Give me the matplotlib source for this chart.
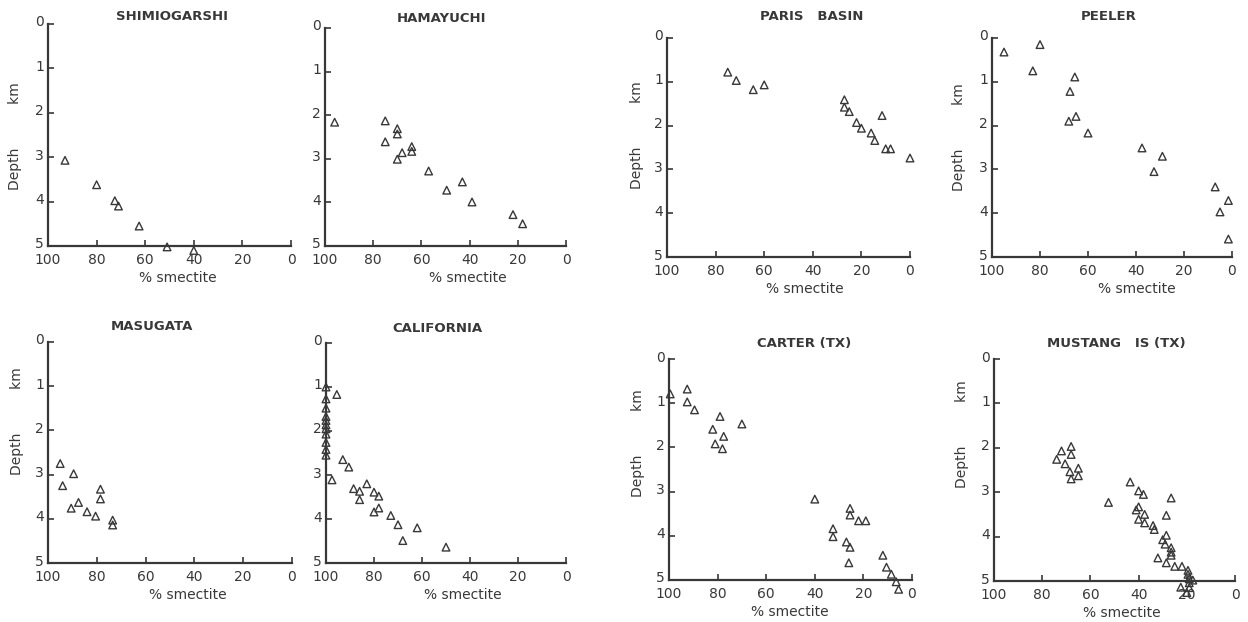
import matplotlib
matplotlib.use("Agg")
import matplotlib.pyplot as plt
import matplotlib.transforms as mtransforms

# ---------------- data (% smectite, depth km) ----------------
shimio_smectite = [93, 80, 72.5, 71, 62.5, 51, 40]
shimio_depth = [3.07, 3.62, 3.98, 4.1, 4.55, 5.02, 5.1]

hama_smectite = [96, 75, 70, 70, 75, 64, 64, 68, 70, 57, 49.5, 43, 39, 22, 18]
hama_depth = [2.16, 2.13, 2.31, 2.43, 2.61, 2.72, 2.83, 2.86, 3.01, 3.28, 3.72, 3.53, 3.99, 4.28, 4.49]

masu_smectite = [95, 89.5, 94, 78.5, 78.5, 87.5, 90.5, 84, 80.5, 73.5, 73.5]
masu_depth = [2.75, 2.98, 3.25, 3.33, 3.55, 3.63, 3.76, 3.84, 3.94, 4.03, 4.14]

cali_smectite = [100, 100, 100, 100, 100, 100, 100, 100, 100, 100, 100,
                 95.5, 93, 90.5, 97.5, 83, 88.5, 86, 80, 78, 86, 78, 80,
                 73, 70, 62, 68, 50]
cali_depth = [1.0, 1.27, 1.48, 1.67, 1.76, 1.86, 1.95, 2.07, 2.26, 2.42, 2.55,
              1.17, 2.65, 2.82, 3.11, 3.2, 3.31, 3.37, 3.39, 3.48, 3.56, 3.75, 3.84,
              3.92, 4.13, 4.2, 4.49, 4.64]

paris_smectite = [75, 71.5, 64.5, 60, 27, 27, 25, 11.5, 22, 20, 16, 14.5, 10, 8, 0]
paris_depth = [0.78, 0.97, 1.18, 1.07, 1.41, 1.58, 1.68, 1.77, 1.93, 2.06, 2.17, 2.34, 2.53, 2.53, 2.74]

peeler_smectite = [95, 80, 83, 65.5, 67.5, 65, 68, 60, 37.5, 29, 32.5, 7, 1.5, 5, 1.5]
peeler_depth = [0.32, 0.15, 0.75, 0.89, 1.22, 1.79, 1.9, 2.17, 2.51, 2.7, 3.05, 3.4, 3.71, 3.97, 4.59]

carter_smectite = [99.5, 92.5, 92.5, 89.5, 79, 70, 82, 77.5, 81, 78, 40, 25.5, 25.5, 22,
                   19, 32.5, 32.5, 27, 25.5, 26, 12, 10.5, 8.5, 6.5, 5.5]
carter_depth = [0.79, 0.68, 0.97, 1.15, 1.3, 1.47, 1.59, 1.75, 1.92, 2.03, 3.17, 3.38, 3.53, 3.66,
                3.66, 3.84, 4.02, 4.14, 4.26, 4.61, 4.44, 4.71, 4.87, 5.04, 5.21]

mustang_smectite = [68, 72, 68, 74, 70.5, 65, 68.5, 65, 68, 43.5, 40, 38, 26.5, 52.5, 40,
                    41, 37.5, 28.5, 40, 37.5, 34, 33.5, 28.5, 30, 29, 26.5, 26.5, 26.5,
                    32, 28.5, 25, 22, 19.5, 19.5, 19, 17.5, 19, 22.5, 19, 20]
mustang_depth = [1.97, 2.07, 2.15, 2.26, 2.36, 2.46, 2.54, 2.63, 2.70, 2.77, 2.97, 3.05, 3.13, 3.23, 3.33,
                 3.40, 3.50, 3.52, 3.61, 3.69, 3.75, 3.84, 3.97, 4.07, 4.17, 4.25, 4.35, 4.42,
                 4.48, 4.59, 4.67, 4.67, 4.76, 4.85, 4.95, 4.98, 5.04, 5.14, 5.15, 5.26]

titles = ["SHIMIOGARSHI", "HAMAYUCHI", "MASUGATA", "CALIFORNIA",
          "PARIS   BASIN", "PEELER", "CARTER (TX)", "MUSTANG   IS (TX)"]
x_label = "% smectite"
y_label = "Depth          km"
x_ticks = [100, 80, 60, 40, 20, 0]
y_ticks = [0, 1, 2, 3, 4, 5]

panels = [
    (shimio_smectite, shimio_depth),
    (hama_smectite, hama_depth),
    (masu_smectite, masu_depth),
    (cali_smectite, cali_depth),
    (paris_smectite, paris_depth),
    (peeler_smectite, peeler_depth),
    (carter_smectite, carter_depth),
    (mustang_smectite, mustang_depth),
]

# layout (pixels): axes box left, right, top, bottom
boxes = [
    (48, 291, 24, 246),
    (325, 566, 28, 246),
    (48, 292, 342, 563),
    (326, 566, 343, 563),
    (667, 910, 38, 257),
    (992, 1232, 38, 257),
    (669, 912, 359, 580),
    (994, 1235, 359, 581),
]
title_pos = [(172, 16), (442, 18), (152, 327), (437, 329),
             (812, 17), (1109, 17), (804, 343), (1116, 343)]
xlabel_x = [178, 468, 188, 463, 805, 1137, 790, 1122]
ylabel_pos = [(15, 136), None, (17, 421), None,
              (637, 135), (959, 137), (638, 443), (962, 434)]

W, H = 1248, 622
fig = plt.figure(figsize=(W / 100, H / 100), dpi=100)
ink = "#383838"
plt.rcParams['font.family'] = ['DejaVu Sans']

for i, ((xs, ys), (l, r, t, b)) in enumerate(zip(panels, boxes)):
    ax = fig.add_axes([l / W, 1 - b / H, (r - l) / W, (b - t) / H])
    ax.scatter(xs, ys, marker="^", s=30, facecolors="none", edgecolors=ink,
               linewidths=1.0, clip_on=False, zorder=3)
    ax.set_xlim(100, 0)
    ax.set_ylim(5, 0)
    ax.set_xticks(x_ticks)
    ax.set_yticks(y_ticks)
    ax.set_xticklabels([str(v) for v in x_ticks])
    ax.set_yticklabels([str(v) for v in y_ticks])
    for s in ["top", "right"]:
        ax.spines[s].set_visible(False)
    for s in ["left", "bottom"]:
        ax.spines[s].set_color(ink)
        ax.spines[s].set_linewidth(1.6)
    ax.tick_params(direction="in", length=4, width=1.2, color=ink,
                   labelcolor=ink, labelsize=10)
    ax.tick_params(axis="x", pad=5)
    ax.tick_params(axis="y", pad=3)
    up = mtransforms.ScaledTranslation(0, 3 / 100, fig.dpi_scale_trans)
    for lab in ax.get_yticklabels():
        lab.set_transform(lab.get_transform() + up)
    ax.patch.set_alpha(0)

    tx, ty = title_pos[i]
    fig.text(tx / W, 1 - ty / H, titles[i], fontsize=9.5, fontweight="bold",
             color=ink, ha="center", va="center")
    fig.text(xlabel_x[i] / W, 1 - (b + 32) / H, x_label, fontsize=10,
             color=ink, ha="center", va="center")
    if ylabel_pos[i] is not None:
        yx, yy = ylabel_pos[i]
        fig.text(yx / W, 1 - yy / H, y_label, fontsize=10, color=ink,
                 rotation=90, ha="center", va="center")

fig.savefig("out.png", dpi=100)
